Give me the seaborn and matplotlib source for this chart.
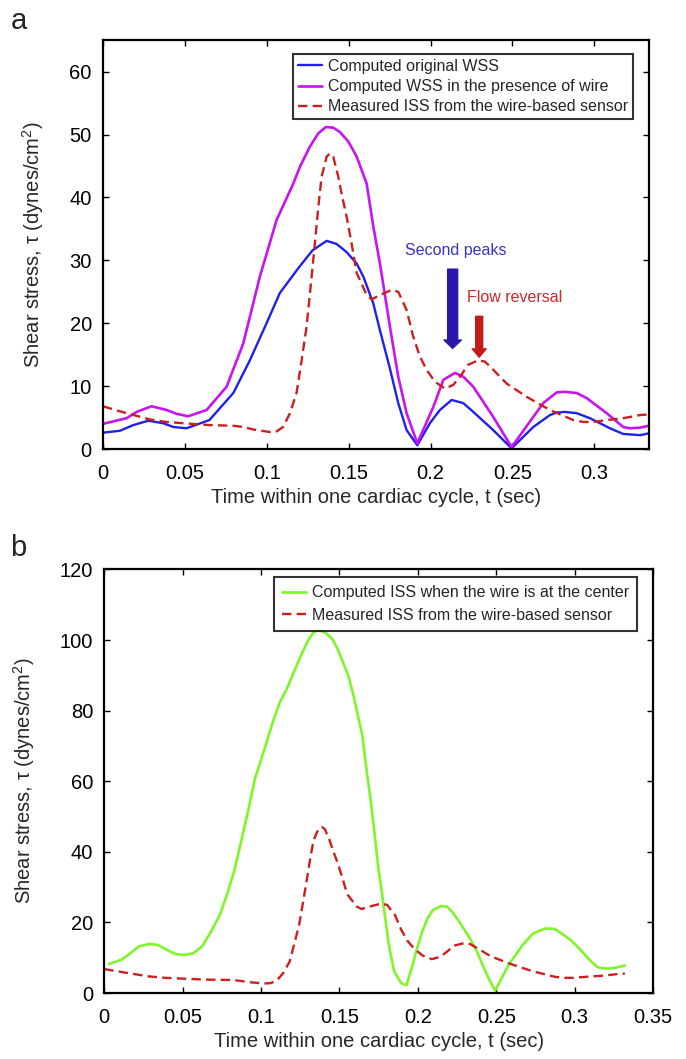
import matplotlib
matplotlib.use("Agg")
import matplotlib.pyplot as plt
import seaborn as sns

# ---------------- data ----------------
# Panel a: computed original WSS (blue)
t_orig = [0.0, 0.0104, 0.0185, 0.0277, 0.0368, 0.043, 0.051, 0.065, 0.0796, 0.0897, 0.0999, 0.108,
          0.120, 0.128, 0.1366, 0.1427, 0.1488, 0.1549, 0.159, 0.165, 0.1691, 0.1752, 0.1803,
          0.1854, 0.1919, 0.1996, 0.2057, 0.2129, 0.22, 0.2261, 0.2383, 0.2495, 0.2627, 0.2729,
          0.277, 0.282, 0.2892, 0.2973, 0.3095, 0.3176, 0.328, 0.3333]
wss_orig = [2.6, 2.9, 3.8, 4.5, 4.1, 3.5, 3.3, 4.6, 8.9, 14.1, 20.0, 24.8,
            29.0, 31.6, 33.1, 32.6, 31.3, 29.5, 27.4, 23.2, 18.9, 12.8, 7.3,
            3.0, 0.6, 4.1, 6.2, 7.8, 7.3, 5.9, 3.0, 0.1, 3.5, 5.4,
            5.8, 5.9, 5.7, 4.9, 3.3, 2.4, 2.2, 2.5]

# Panel a: computed WSS in the presence of wire (magenta)
t_wire = [0.0, 0.0145, 0.0206, 0.0297, 0.0389, 0.045, 0.052, 0.0633, 0.0755, 0.0857, 0.0958,
          0.106, 0.1162, 0.1203, 0.1264, 0.1315, 0.1361, 0.1406, 0.1447, 0.1498, 0.1549, 0.161,
          0.165, 0.1691, 0.1752, 0.1803, 0.1854, 0.1919, 0.2017, 0.2078, 0.2149, 0.22, 0.2261,
          0.2383, 0.2495, 0.2627, 0.2688, 0.277, 0.282, 0.2892, 0.2953, 0.3075, 0.3176, 0.3217,
          0.328, 0.3333]
wss_wire = [4.0, 4.9, 5.9, 6.8, 6.2, 5.6, 5.2, 6.2, 9.9, 16.8, 27.4,
            36.4, 42.2, 44.9, 48.1, 50.2, 51.2, 51.1, 50.4, 48.9, 46.5, 42.2,
            35.5, 29.5, 19.5, 11.5, 5.7, 0.9, 6.7, 11.0, 12.1, 11.5, 9.9,
            5.1, 0.3, 5.1, 7.3, 9.0, 9.1, 8.9, 8.1, 5.7, 3.5, 3.3,
            3.4, 3.7]

# Measured ISS from the wire-based sensor (red dashed, both panels)
t_meas = [0.0, 0.0063, 0.0145, 0.0287, 0.0389, 0.049, 0.0653, 0.0796, 0.0857, 0.0918, 0.102,
          0.106, 0.110, 0.1142, 0.1182, 0.1213, 0.1243, 0.1268, 0.1294, 0.1315, 0.1335, 0.1366,
          0.1386, 0.1406, 0.1437, 0.1457, 0.1488, 0.1518, 0.1549, 0.1579, 0.161, 0.164, 0.171,
          0.1763, 0.1803, 0.1854, 0.1894, 0.1935, 0.1976, 0.2027, 0.2088, 0.2139, 0.218, 0.223,
          0.2291, 0.2332, 0.2383, 0.2465, 0.2587, 0.2729, 0.2872, 0.2933, 0.2993, 0.3075, 0.3176,
          0.328, 0.3333]
iss_meas = [6.8, 6.3, 5.7, 4.7, 4.3, 4.1, 3.8, 3.7, 3.5, 3.1, 2.7,
            2.8, 3.5, 5.7, 8.9, 14.1, 19.4, 25.8, 32.7, 38.5, 43.3, 46.5,
            47.0, 46.5, 43.3, 40.6, 36.9, 32.7, 28.0, 26.3, 24.5, 23.8, 24.7,
            25.3, 25.0, 22.1, 17.9, 14.7, 12.6, 10.7, 9.6, 10.2, 11.5, 13.4,
            14.1, 13.9, 12.6, 10.4, 8.3, 6.2, 4.6, 4.3, 4.3, 4.6, 4.9,
            5.4, 5.5]
t_meas_b = t_meas[:-1] + [0.332]

# Panel b: computed ISS when the wire is at the center (green)
t_center = [0.0029, 0.0108, 0.0153, 0.022, 0.0288, 0.0344, 0.040, 0.0456, 0.0512, 0.0568, 0.0624,
            0.0681, 0.0737, 0.0782, 0.0827, 0.0872, 0.0916, 0.0961, 0.1029, 0.1074, 0.1119,
            0.1164, 0.1208, 0.1253, 0.1298, 0.1332, 0.1366, 0.1411, 0.1456, 0.1489, 0.1523,
            0.1557, 0.159, 0.1613, 0.1646, 0.1669, 0.1703, 0.1725, 0.1748, 0.177, 0.1792, 0.1815,
            0.1849, 0.1894, 0.1927, 0.1961, 0.1995, 0.2028, 0.2062, 0.2096, 0.2147, 0.2186, 0.2219,
            0.2264, 0.2332, 0.2376, 0.2421, 0.2455, 0.2493, 0.2534, 0.2579, 0.2624, 0.2668,
            0.2736, 0.2814, 0.2871, 0.2916, 0.2972, 0.3028, 0.3084, 0.314, 0.3163, 0.3208,
            0.3264, 0.332]
iss_center = [8.2, 9.4, 10.8, 13.2, 13.9, 13.6, 12.2, 11.0, 10.8, 11.3, 13.2,
              17.4, 22.1, 27.8, 34.3, 42.8, 51.3, 60.7, 70.1, 76.7, 82.3,
              86.1, 90.8, 95.5, 99.7, 102.1, 102.8, 102.1, 100.2, 97.4, 93.6,
              89.8, 84.2, 79.5, 72.9, 64.4, 53.2, 44.7, 35.3, 28.7, 21.2, 13.6,
              6.1, 2.8, 2.2, 7.1, 12.7, 17.4, 21.2, 23.5, 24.6, 24.5, 23.0,
              20.2, 15.5, 11.8, 7.1, 3.8, 0.7, 4.2, 8.0, 10.8, 13.6,
              16.9, 18.3, 18.2, 16.9, 15.1, 12.7, 9.9, 7.5, 7.1, 6.9,
              7.2, 7.8]

labels_a = ["Computed original WSS", "Computed WSS in the presence of wire",
            "Measured ISS from the wire-based sensor"]
labels_b = ["Computed ISS when the wire is at the center",
            "Measured ISS from the wire-based sensor"]

xticks_a = [0, 0.05, 0.1, 0.15, 0.2, 0.25, 0.3]
xticklabels_a = ["0", "0.05", "0.1", "0.15", "0.2", "0.25", "0.3"]
yticks_a = [0, 10, 20, 30, 40, 50, 60]
xticks_b = [0, 0.05, 0.1, 0.15, 0.2, 0.25, 0.3, 0.35]
xticklabels_b = ["0", "0.05", "0.1", "0.15", "0.2", "0.25", "0.3", "0.35"]
yticks_b = [0, 20, 40, 60, 80, 100, 120]

# ---------------- style ----------------
sns.set_theme(style="ticks")
FONT = ["Liberation Sans", "DejaVu Sans"]
plt.rcParams["font.family"] = FONT
plt.rcParams["mathtext.fontset"] = "custom"
plt.rcParams["mathtext.rm"] = "Liberation Sans"
plt.rcParams["mathtext.it"] = "Liberation Sans:italic"
plt.rcParams["mathtext.bf"] = "Liberation Sans:bold"
plt.rcParams["mathtext.default"] = "regular"

C_BLUE = "#2020ee"
C_MAG = "#c814f0"
C_RED = "#cc1f1f"
C_GREEN = "#80f52a"

TICK_FS = 14.5
LAB_FS = 14.5
LEG_FS = 11.5

fig = plt.figure(figsize=(6.86, 10.59), dpi=100)
fig.patch.set_facecolor("white")
ax_a = fig.add_axes([0.150, 0.576, 0.796, 0.386])
ax_b = fig.add_axes([0.152, 0.0623, 0.800, 0.400])


def style_axes(ax, xticks, xticklabels, yticks):
    ax.set_facecolor("white")
    for sp in ax.spines.values():
        sp.set_visible(True)
        sp.set_color("black")
        sp.set_linewidth(1.6)
    ax.set_xticks(xticks)
    ax.set_xticklabels(xticklabels)
    ax.set_yticks(yticks)
    ax.tick_params(direction="in", length=4, width=1.0, top=True, right=True,
                   labelsize=TICK_FS, colors="black")
    ax.tick_params(axis="x", pad=10.5)
    ax.tick_params(axis="y", pad=8)
    ax.grid(False)
    ax.set_xlabel("Time within one cardiac cycle, t (sec)", fontsize=LAB_FS, labelpad=4)
    ax.set_ylabel("Shear stress, τ (dynes/cm$^2$)", fontsize=LAB_FS, labelpad=16.5)


# ---------------- panel a ----------------
sns.lineplot(x=t_orig, y=wss_orig, ax=ax_a, color=C_BLUE, lw=1.7, sort=False, estimator=None)
sns.lineplot(x=t_wire, y=wss_wire, ax=ax_a, color=C_MAG, lw=1.9, sort=False, estimator=None)
sns.lineplot(x=t_meas, y=iss_meas, ax=ax_a, color=C_RED, lw=1.7, sort=False, estimator=None,
             linestyle="--")
lines_a = ax_a.get_lines()
lines_a[2].set_dashes((4, 2.2))
ax_a.set_xlim(0, 1 / 3)
ax_a.set_ylim(0, 65)
style_axes(ax_a, xticks_a, xticklabels_a, yticks_a)
leg = ax_a.legend(lines_a[:3], labels_a, loc="upper right", bbox_to_anchor=(0.971, 0.966),
                  borderaxespad=0, fontsize=LEG_FS, frameon=True, fancybox=False,
                  handlelength=1.5, handletextpad=0.4, labelspacing=0.33,
                  borderpad=0.3)
leg.get_frame().set_edgecolor("black")
leg.get_frame().set_linewidth(1.5)

ax_a.annotate("", xy=(0.2135, 16.0), xytext=(0.2135, 28.6),
              arrowprops=dict(arrowstyle="simple,head_length=0.6,head_width=1.25,tail_width=0.72",
                              color="#2a18aa", shrinkA=0, shrinkB=0, mutation_scale=10))
ax_a.text(0.2155, 31.5, "Second peaks", color="#3a33c4", fontsize=11.5, ha="center", va="center")
ax_a.annotate("", xy=(0.2297, 14.6), xytext=(0.2297, 21.1),
              arrowprops=dict(arrowstyle="simple,head_length=0.6,head_width=1.0,tail_width=0.5",
                              color="#c41a1a", shrinkA=0, shrinkB=0, mutation_scale=10))
ax_a.text(0.2513, 24.1, "Flow reversal", color="#cc2a2a", fontsize=11.5, ha="center", va="center")

# ---------------- panel b ----------------
sns.lineplot(x=t_center, y=iss_center, ax=ax_b, color=C_GREEN, lw=1.9, sort=False, estimator=None)
sns.lineplot(x=t_meas_b, y=iss_meas, ax=ax_b, color=C_RED, lw=1.7, sort=False,
             estimator=None, linestyle="--")
lines_b = ax_b.get_lines()
lines_b[1].set_dashes((4, 2.2))
ax_b.set_xlim(0, 0.35)
ax_b.set_ylim(0, 120)
style_axes(ax_b, xticks_b, xticklabels_b, yticks_b)
leg_b = ax_b.legend(lines_b[:2], labels_b, loc="upper right", bbox_to_anchor=(0.971, 0.981),
                    borderaxespad=0, fontsize=LEG_FS, frameon=True, fancybox=False,
                    handlelength=1.5, handletextpad=0.4, labelspacing=0.45,
                    borderpad=0.5)
leg_b.get_frame().set_edgecolor("black")
leg_b.get_frame().set_linewidth(1.5)

fig.text(0.015, 0.993, "a", fontsize=21, ha="left", va="top")
fig.text(0.015, 0.4955, "b", fontsize=21, ha="left", va="top")

fig.savefig("out.png", dpi=100, facecolor="white")
